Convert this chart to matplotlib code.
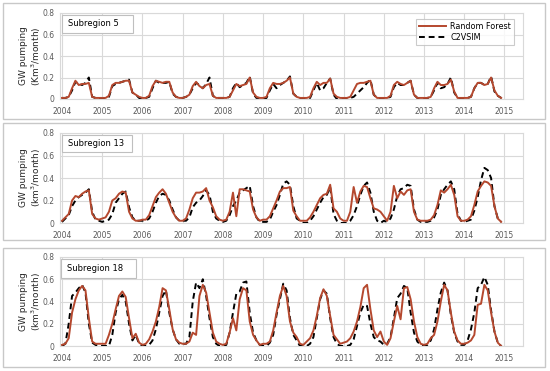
import numpy as np
import matplotlib
matplotlib.use("Agg")
import matplotlib.pyplot as plt
from matplotlib.patches import Rectangle
from matplotlib.lines import Line2D

plt.rcParams['font.family'] = ['DejaVu Sans']

years = [2004, 2005, 2006, 2007, 2008, 2009, 2010, 2011, 2012, 2013, 2014, 2015]
yticks = [0, 0.2, 0.4, 0.6, 0.8]
ytick_labels = ["0", "0.2", "0.4", "0.6", "0.8"]
month_index = np.arange(132)

rf_5 = [0.01, 0.01, 0.02, 0.10, 0.17, 0.13, 0.14, 0.14, 0.15, 0.02, 0.01, 0.01,
        0.01, 0.01, 0.03, 0.13, 0.15, 0.15, 0.16, 0.17, 0.17, 0.06, 0.04, 0.02,
        0.01, 0.01, 0.03, 0.12, 0.17, 0.16, 0.15, 0.16, 0.16, 0.06, 0.02, 0.01,
        0.01, 0.02, 0.04, 0.12, 0.16, 0.12, 0.10, 0.13, 0.14, 0.03, 0.01, 0.01,
        0.01, 0.01, 0.02, 0.08, 0.14, 0.12, 0.13, 0.14, 0.20, 0.06, 0.02, 0.01,
        0.01, 0.02, 0.10, 0.15, 0.14, 0.14, 0.15, 0.17, 0.20, 0.05, 0.02, 0.01,
        0.01, 0.01, 0.02, 0.10, 0.16, 0.13, 0.15, 0.15, 0.19, 0.05, 0.02, 0.01,
        0.01, 0.01, 0.02, 0.08, 0.14, 0.15, 0.15, 0.16, 0.17, 0.04, 0.01, 0.01,
        0.01, 0.01, 0.03, 0.13, 0.16, 0.14, 0.13, 0.15, 0.17, 0.04, 0.01, 0.01,
        0.01, 0.01, 0.02, 0.10, 0.16, 0.13, 0.13, 0.14, 0.18, 0.07, 0.01, 0.01,
        0.01, 0.01, 0.02, 0.10, 0.15, 0.15, 0.13, 0.14, 0.20, 0.08, 0.03, 0.01]
c2_5 = [0.01, 0.01, 0.02, 0.08, 0.16, 0.14, 0.13, 0.15, 0.20, 0.02, 0.01, 0.00,
        0.00, 0.01, 0.02, 0.12, 0.14, 0.15, 0.16, 0.17, 0.18, 0.06, 0.04, 0.01,
        0.00, 0.01, 0.02, 0.10, 0.17, 0.15, 0.15, 0.15, 0.16, 0.05, 0.02, 0.01,
        0.01, 0.02, 0.04, 0.10, 0.15, 0.13, 0.10, 0.14, 0.20, 0.03, 0.01, 0.01,
        0.01, 0.01, 0.02, 0.10, 0.15, 0.11, 0.13, 0.15, 0.21, 0.05, 0.01, 0.01,
        0.00, 0.01, 0.08, 0.14, 0.10, 0.13, 0.15, 0.17, 0.21, 0.05, 0.02, 0.01,
        0.00, 0.00, 0.01, 0.08, 0.15, 0.08, 0.10, 0.15, 0.19, 0.04, 0.00, 0.00,
        0.00, 0.00, 0.01, 0.02, 0.05, 0.08, 0.11, 0.15, 0.18, 0.04, 0.01, 0.00,
        0.00, 0.01, 0.02, 0.11, 0.15, 0.13, 0.13, 0.15, 0.17, 0.04, 0.01, 0.00,
        0.00, 0.01, 0.02, 0.08, 0.15, 0.10, 0.11, 0.14, 0.20, 0.06, 0.01, 0.00,
        0.00, 0.01, 0.02, 0.10, 0.15, 0.15, 0.13, 0.14, 0.21, 0.07, 0.03, 0.01]

rf_13 = [0.02, 0.05, 0.08, 0.20, 0.24, 0.23, 0.26, 0.28, 0.29, 0.08, 0.04, 0.03,
         0.04, 0.05, 0.10, 0.20, 0.22, 0.26, 0.28, 0.27, 0.10, 0.04, 0.02, 0.02,
         0.03, 0.03, 0.07, 0.15, 0.23, 0.27, 0.30, 0.26, 0.18, 0.10, 0.05, 0.02,
         0.02, 0.04, 0.12, 0.22, 0.27, 0.27, 0.28, 0.31, 0.20, 0.14, 0.06, 0.03,
         0.02, 0.03, 0.10, 0.27, 0.06, 0.30, 0.30, 0.29, 0.28, 0.12, 0.05, 0.02,
         0.03, 0.03, 0.06, 0.13, 0.20, 0.28, 0.31, 0.31, 0.32, 0.11, 0.06, 0.02,
         0.02, 0.02, 0.05, 0.10, 0.16, 0.22, 0.25, 0.26, 0.34, 0.13, 0.10, 0.04,
         0.02, 0.02, 0.10, 0.32, 0.18, 0.28, 0.33, 0.32, 0.22, 0.13, 0.12, 0.10,
         0.06, 0.02, 0.10, 0.33, 0.22, 0.28, 0.25, 0.29, 0.30, 0.10, 0.03, 0.02,
         0.02, 0.02, 0.03, 0.07, 0.16, 0.29, 0.27, 0.30, 0.34, 0.25, 0.06, 0.02,
         0.02, 0.03, 0.06, 0.16, 0.28, 0.33, 0.37, 0.36, 0.33, 0.15, 0.04, 0.01]
c2_13 = [0.01, 0.04, 0.07, 0.15, 0.20, 0.23, 0.25, 0.27, 0.30, 0.10, 0.03, 0.02,
         0.01, 0.02, 0.03, 0.08, 0.18, 0.22, 0.26, 0.28, 0.14, 0.05, 0.02, 0.02,
         0.02, 0.02, 0.04, 0.10, 0.18, 0.24, 0.26, 0.25, 0.20, 0.12, 0.05, 0.02,
         0.02, 0.02, 0.05, 0.14, 0.18, 0.20, 0.24, 0.29, 0.25, 0.10, 0.04, 0.02,
         0.01, 0.02, 0.07, 0.15, 0.20, 0.27, 0.29, 0.31, 0.33, 0.15, 0.05, 0.01,
         0.01, 0.01, 0.03, 0.10, 0.16, 0.25, 0.35, 0.37, 0.34, 0.15, 0.04, 0.02,
         0.00, 0.00, 0.02, 0.06, 0.12, 0.18, 0.23, 0.25, 0.32, 0.08, 0.02, 0.00,
         0.00, 0.00, 0.02, 0.07, 0.15, 0.25, 0.33, 0.36, 0.27, 0.10, 0.02, 0.00,
         0.02, 0.01, 0.04, 0.12, 0.24, 0.30, 0.31, 0.34, 0.33, 0.12, 0.03, 0.01,
         0.01, 0.01, 0.02, 0.05, 0.12, 0.25, 0.30, 0.34, 0.37, 0.30, 0.08, 0.02,
         0.01, 0.02, 0.03, 0.11, 0.23, 0.38, 0.49, 0.47, 0.40, 0.15, 0.04, 0.01]

rf_18 = [0.01, 0.02, 0.07, 0.30, 0.42, 0.50, 0.54, 0.50, 0.25, 0.04, 0.02, 0.02,
         0.02, 0.02, 0.10, 0.20, 0.33, 0.45, 0.49, 0.44, 0.25, 0.07, 0.11, 0.03,
         0.01, 0.02, 0.06, 0.13, 0.22, 0.35, 0.52, 0.50, 0.33, 0.15, 0.06, 0.03,
         0.02, 0.02, 0.04, 0.12, 0.10, 0.45, 0.55, 0.48, 0.30, 0.12, 0.04, 0.02,
         0.01, 0.02, 0.12, 0.25, 0.14, 0.42, 0.52, 0.50, 0.22, 0.10, 0.05, 0.01,
         0.02, 0.02, 0.04, 0.14, 0.30, 0.45, 0.54, 0.45, 0.22, 0.12, 0.08, 0.02,
         0.01, 0.04, 0.07, 0.14, 0.27, 0.43, 0.51, 0.45, 0.27, 0.10, 0.06, 0.02,
         0.03, 0.04, 0.07, 0.13, 0.22, 0.35, 0.52, 0.55, 0.33, 0.14, 0.08, 0.13,
         0.04, 0.01, 0.07, 0.22, 0.36, 0.24, 0.52, 0.53, 0.42, 0.22, 0.08, 0.02,
         0.01, 0.02, 0.07, 0.10, 0.22, 0.40, 0.55, 0.50, 0.30, 0.13, 0.05, 0.02,
         0.02, 0.03, 0.05, 0.10, 0.37, 0.38, 0.55, 0.50, 0.30, 0.13, 0.03, 0.00]
c2_18 = [0.00, 0.02, 0.20, 0.45, 0.48, 0.52, 0.55, 0.48, 0.20, 0.03, 0.01, 0.00,
         0.00, 0.00, 0.00, 0.10, 0.30, 0.42, 0.46, 0.40, 0.20, 0.05, 0.10, 0.02,
         0.00, 0.00, 0.01, 0.05, 0.15, 0.30, 0.45, 0.50, 0.30, 0.15, 0.06, 0.02,
         0.02, 0.02, 0.08, 0.40, 0.57, 0.52, 0.60, 0.45, 0.25, 0.08, 0.02, 0.00,
         0.00, 0.01, 0.12, 0.30, 0.47, 0.49, 0.57, 0.58, 0.30, 0.12, 0.05, 0.01,
         0.00, 0.00, 0.03, 0.10, 0.28, 0.42, 0.56, 0.50, 0.25, 0.10, 0.05, 0.00,
         0.00, 0.00, 0.02, 0.08, 0.25, 0.42, 0.50, 0.47, 0.25, 0.08, 0.02, 0.00,
         0.00, 0.00, 0.01, 0.06, 0.18, 0.30, 0.37, 0.36, 0.20, 0.08, 0.05, 0.04,
         0.01, 0.02, 0.08, 0.25, 0.43, 0.47, 0.54, 0.52, 0.30, 0.12, 0.04, 0.01,
         0.00, 0.01, 0.05, 0.15, 0.33, 0.48, 0.57, 0.50, 0.28, 0.12, 0.04, 0.01,
         0.01, 0.05, 0.15, 0.30, 0.52, 0.55, 0.62, 0.55, 0.32, 0.13, 0.03, 0.00]

panels = [
    ("Subregion 5", "GW pumping\n(Km$^3$/month)", rf_5, c2_5),
    ("Subregion 13", "GW pumping\n(km$^3$/month)", rf_13, c2_13),
    ("Subregion 18", "GW pumping\n(km$^3$/month)", rf_18, c2_18),
]

W, H = 550, 371
fig = plt.figure(figsize=(5.5, 3.71), dpi=100)

plot_boxes = [(13, 99), (133, 223), (257, 346)]
frame_boxes = [(3, 119), (123, 240), (248, 367)]
title_boxes = [(62, 133, 15, 33), (62, 132, 135, 152), (61, 136, 259, 278)]
x_left, x_right = 60, 523

RF_COLOR = '#B5482E'
GRID = '#D9D9D9'
TXT = '#595959'

t = 2004 + month_index / 12.0

for k, (title, ylab, rf, c2) in enumerate(panels):
    ft, fb = frame_boxes[k]
    fig.patches.append(Rectangle((3 / W, 1 - fb / H), (545 - 3) / W, (fb - ft) / H,
                                 transform=fig.transFigure, fill=False,
                                 edgecolor='#C8C8C8', linewidth=1.0))
    pt, pb = plot_boxes[k]
    ax = fig.add_axes([x_left / W, 1 - pb / H, (x_right - x_left) / W, (pb - pt) / H])
    ax.plot(t, c2, color='black', lw=1.4, ls=(0, (3.0, 2.0)), zorder=3)
    ax.plot(t, rf, color=RF_COLOR, lw=1.4, zorder=4)
    ax.set_xlim(2003.95, 2015.46)
    ax.set_ylim(0, 0.8)
    ax.set_xticks(years)
    ax.set_xticklabels([str(y) for y in years])
    ax.set_yticks(yticks)
    ax.set_yticklabels(ytick_labels)
    ax.tick_params(length=0, labelsize=5.5, labelcolor=TXT)
    ax.tick_params(axis='x', pad=6)
    ax.tick_params(axis='y', pad=4)
    ax.grid(True, color=GRID, lw=0.8)
    ax.set_axisbelow(True)
    for s in ax.spines.values():
        s.set_color(GRID)
        s.set_linewidth(0.8)
    bx0, bx1, by0, by1 = title_boxes[k]
    fig.patches.append(Rectangle((bx0 / W, 1 - by1 / H), (bx1 - bx0) / W, (by1 - by0) / H,
                                 transform=fig.transFigure, facecolor='white',
                                 edgecolor='#BFBFBF', linewidth=0.8, zorder=10))
    fig.text((bx0 + 6) / W, 1 - ((by0 + by1) / 2) / H, title, ha='left', va='center',
             fontsize=6, color='black', zorder=11)
    fig.text(31 / W, 1 - ((pt + pb) / 2) / H, ylab, rotation=90, ha='center', va='center',
             fontsize=6.5, color='#262626', linespacing=1.1)
    if k == 0:
        handles = [Line2D([], [], color=RF_COLOR, lw=1.4),
                   Line2D([], [], color='black', lw=1.4, ls=(0, (3.0, 2.0)))]
        leg = ax.legend(handles, ["Random Forest", "C2VSIM"], loc='upper right',
                        bbox_to_anchor=(0.99, 0.98), fontsize=5.8, frameon=True,
                        fancybox=False, edgecolor='#BFBFBF', handlelength=3.4,
                        borderpad=0.4, labelspacing=0.25, handletextpad=0.5)
        leg.get_frame().set_linewidth(0.8)

fig.savefig("out.png", dpi=100)
